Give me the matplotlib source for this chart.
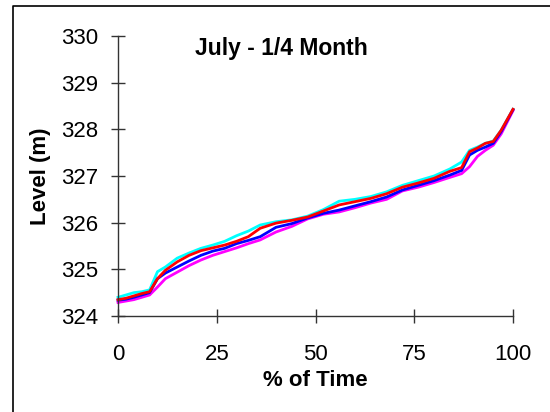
import matplotlib
matplotlib.use("Agg")
import matplotlib.pyplot as plt
from matplotlib.lines import Line2D

plt.rcParams['font.family'] = ['Liberation Sans', 'DejaVu Sans']

pct_time = [0, 2, 4, 6, 8, 10, 12, 15, 18, 21, 24, 27, 30, 33, 36, 40, 44, 48,
            52, 56, 60, 64, 68, 72, 76, 80, 84, 87, 89, 91, 93, 95, 97, 100]

level_cyan = [324.40, 324.45, 324.50, 324.52, 324.56, 324.95, 325.05, 325.24, 325.35,
              325.45, 325.52, 325.60, 325.72, 325.82, 325.95, 326.02, 326.06, 326.14,
              326.28, 326.46, 326.50, 326.56, 326.66, 326.80, 326.90, 327.00, 327.15,
              327.30, 327.55, 327.62, 327.70, 327.75, 327.98, 328.43]
level_magenta = [324.29, 324.32, 324.35, 324.40, 324.45, 324.62, 324.80, 324.94, 325.08,
                 325.20, 325.30, 325.38, 325.46, 325.55, 325.63, 325.80, 325.92, 326.08,
                 326.18, 326.23, 326.32, 326.42, 326.50, 326.68, 326.76, 326.86, 326.97,
                 327.05, 327.20, 327.42, 327.55, 327.66, 327.90, 328.40]
level_blue = [324.34, 324.36, 324.40, 324.45, 324.50, 324.80, 324.92, 325.05, 325.18,
              325.30, 325.39, 325.45, 325.55, 325.62, 325.70, 325.90, 325.98, 326.10,
              326.20, 326.27, 326.36, 326.45, 326.55, 326.70, 326.80, 326.90, 327.02,
              327.12, 327.45, 327.55, 327.62, 327.70, 327.95, 328.42]
level_red = [324.35, 324.38, 324.43, 324.48, 324.52, 324.80, 324.98, 325.16, 325.30,
             325.40, 325.46, 325.52, 325.60, 325.70, 325.88, 325.99, 326.05, 326.12,
             326.25, 326.38, 326.45, 326.52, 326.62, 326.76, 326.85, 326.95, 327.10,
             327.18, 327.52, 327.60, 327.70, 327.74, 327.98, 328.43]

x_ticks = [0, 25, 50, 75, 100]
y_ticks = [324, 325, 326, 327, 328, 329, 330]

W, H = 550, 412
fig = plt.figure(figsize=(W / 100, H / 100), dpi=100)
ax = fig.add_axes([118 / W, 1 - 316 / H, (513 - 118) / W, (316 - 36) / H])

lw = 2.0
ax.plot(pct_time, level_cyan, color='#00FFFF', lw=lw, clip_on=False)
ax.plot(pct_time, level_magenta, color='#FF00FF', lw=lw, clip_on=False)
ax.plot(pct_time, level_blue, color='#0000FF', lw=lw, clip_on=False)
ax.plot(pct_time, level_red, color='#FF0000', lw=lw, clip_on=False)

ax.set_xlim(0, 100)
ax.set_ylim(324, 330)
ax.set_xticks(x_ticks)
ax.set_yticks(y_ticks)
for s in ['top', 'right']:
    ax.spines[s].set_visible(False)
for s in ['left', 'bottom']:
    ax.spines[s].set_color('#333333')
    ax.spines[s].set_linewidth(1.0)
ax.tick_params(direction='inout', length=10, width=1.0, color='#333333',
               labelsize=16)
ax.tick_params(axis='x', pad=15)
ax.tick_params(axis='y', pad=9.5)

ax.set_xlabel('% of Time', fontsize=16, fontweight='bold', labelpad=4)
ax.set_ylabel('Level (m)', fontsize=16, fontweight='bold', labelpad=7)

fig.text(281 / W, 1 - 48 / H, 'July - 1/4 Month', fontsize=16.5, fontweight='bold',
         ha='center', va='center')

# outer frame (left and top edges visible)
fig.add_artist(Line2D([12.5 / W, 12.5 / W, 1], [0, 1 - 5.5 / H, 1 - 5.5 / H],
                      transform=fig.transFigure, color='black', lw=1.2))

fig.savefig('out.png', dpi=100)
